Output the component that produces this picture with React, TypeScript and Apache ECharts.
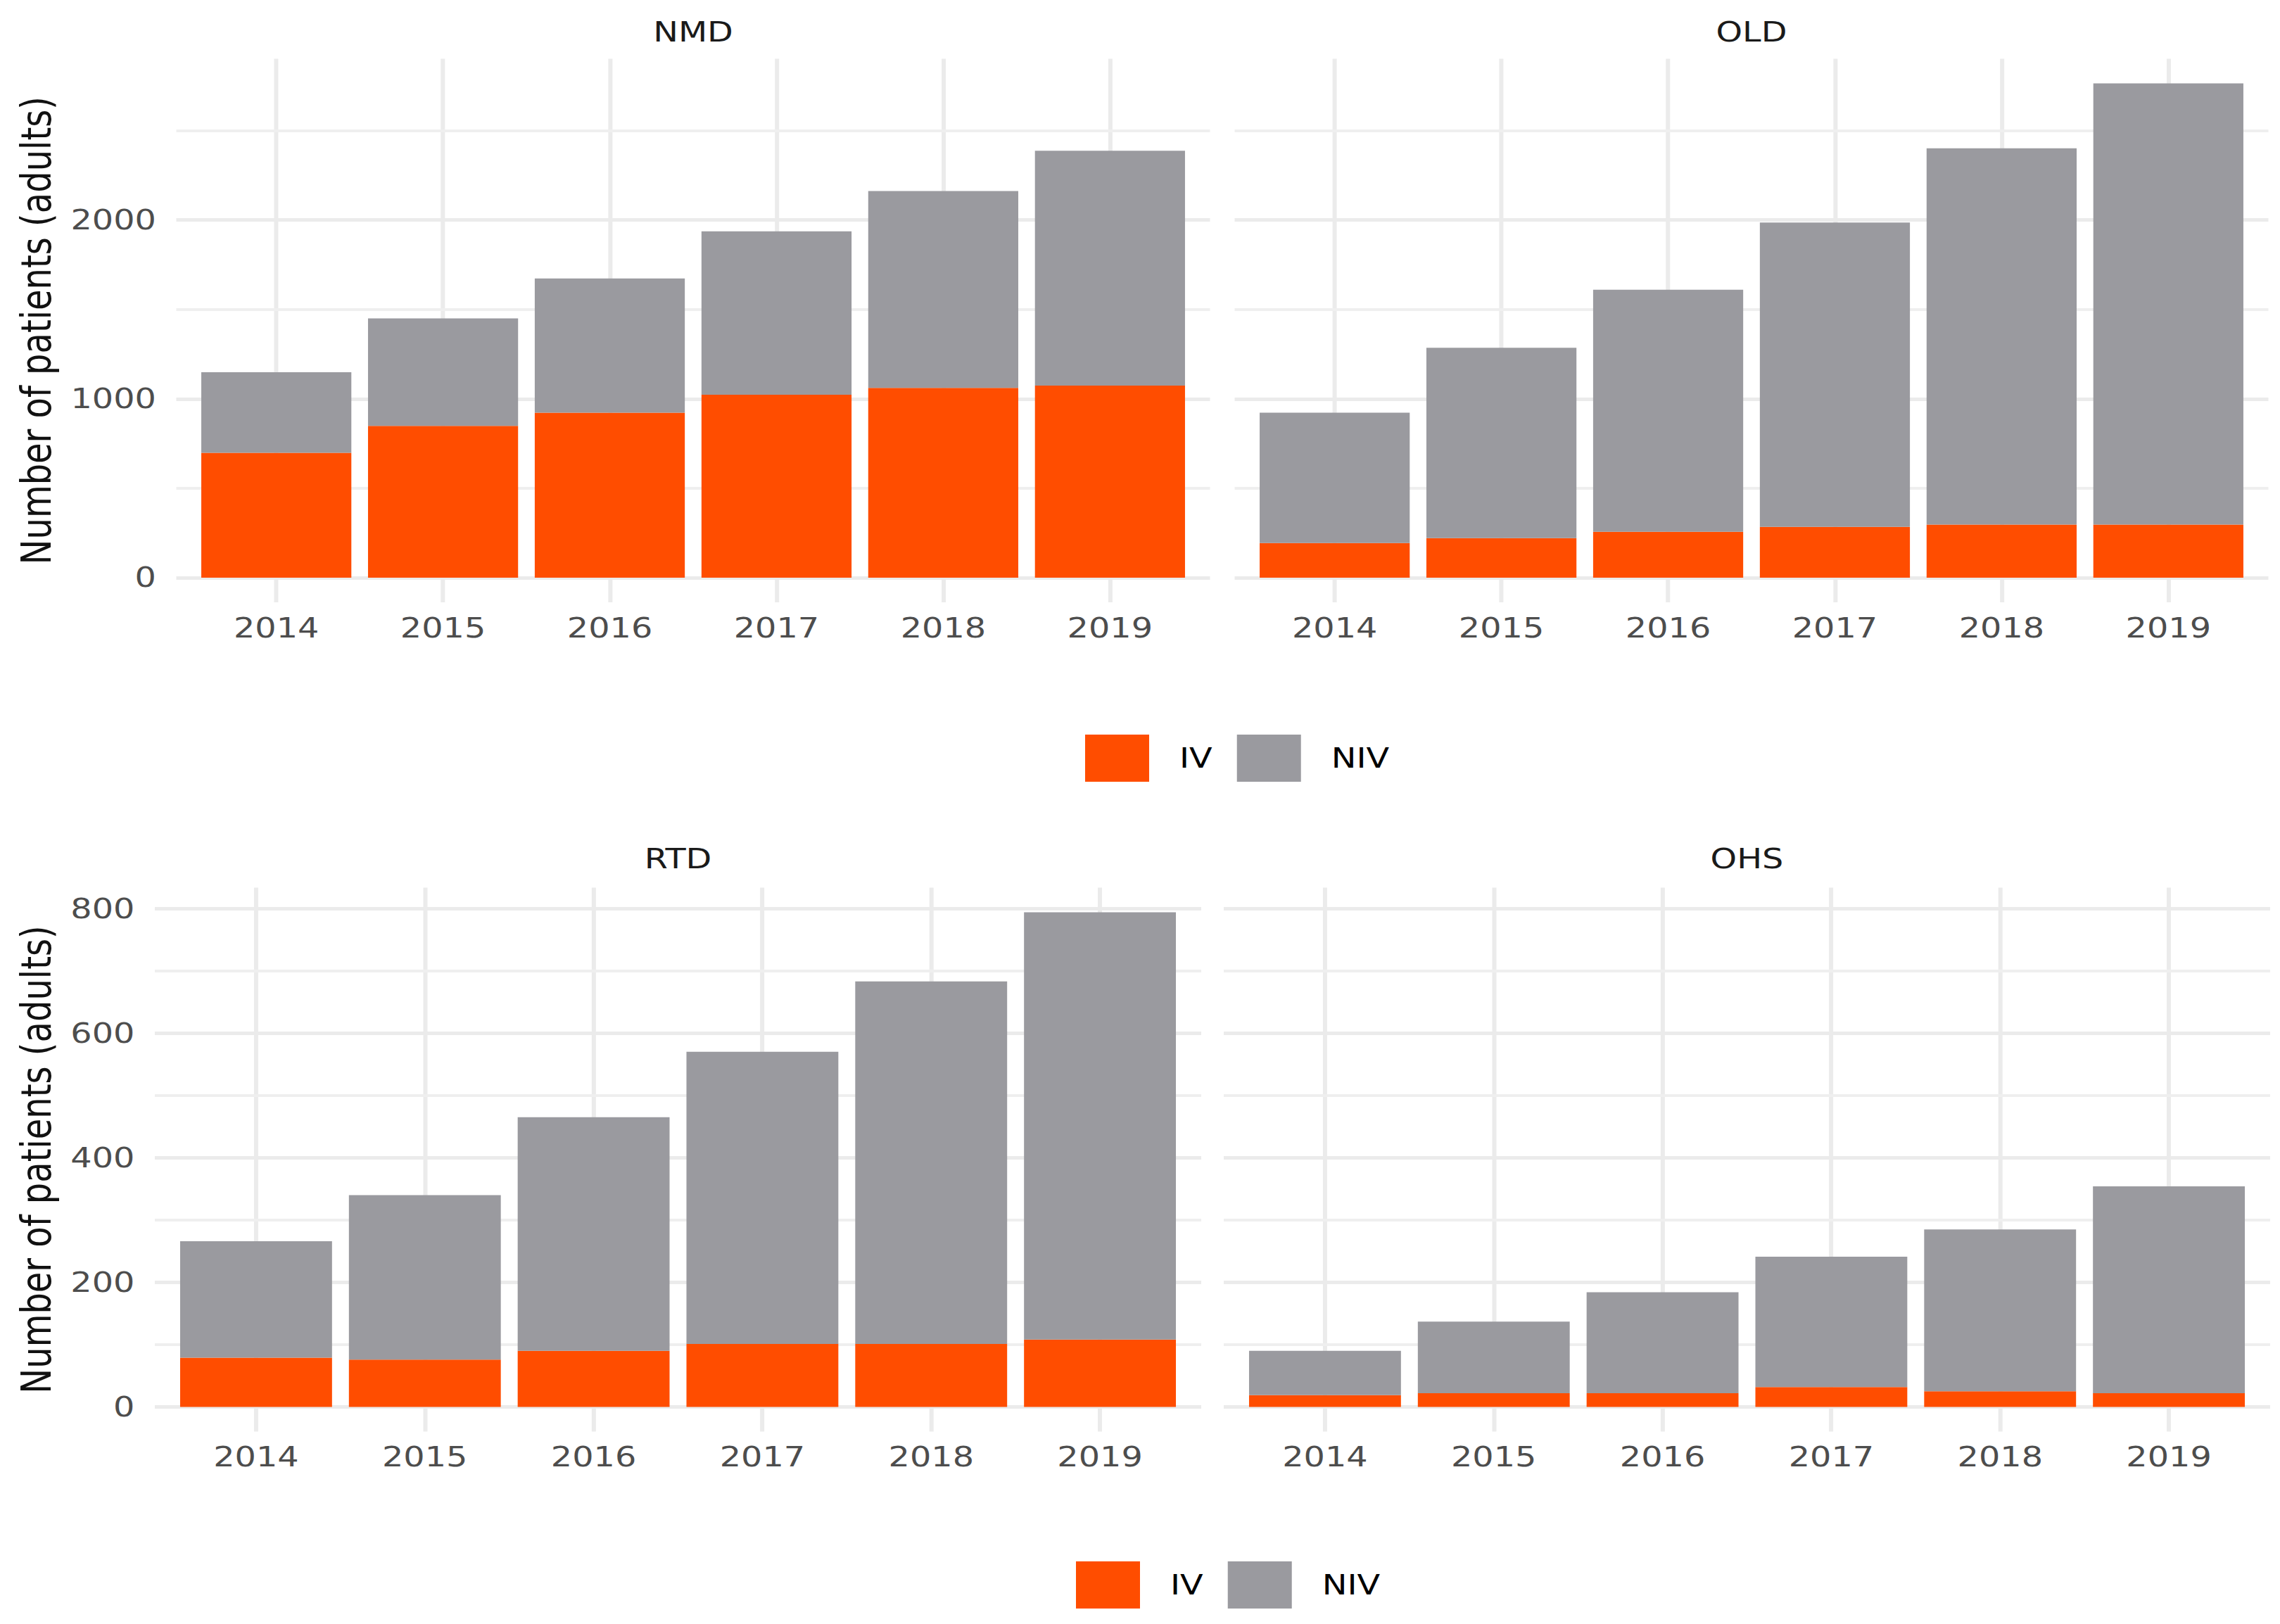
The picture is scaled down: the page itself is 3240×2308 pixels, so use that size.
import React, { useEffect, useRef } from "react";
import * as echarts from "echarts";

// ---------- data ----------
const years = ["2014", "2015", "2016", "2017", "2018", "2019"];
const legendNames = ["IV", "NIV"];
const panelNames = ["NMD", "OLD", "RTD", "OHS"];

const nmdIV = [698, 849, 923, 1023, 1061, 1074];
const nmdNIV = [451, 601, 750, 914, 1101, 1313];
const oldIV = [194, 221, 257, 284, 297, 297];
const oldNIV = [729, 1065, 1353, 1702, 2104, 2467];
const rtdIV = [79, 76, 90, 101, 101, 108];
const rtdNIV = [187, 264, 375, 469, 582, 686];
const ohsIV = [19, 22, 22, 32, 25, 22];
const ohsNIV = [71, 115, 162, 209, 260, 332];

const topYTicks = [0, 1000, 2000];
const topYMinor = [500, 1500, 2500];
const bottomYTicks = [0, 200, 400, 600, 800];
const bottomYMinor = [100, 300, 500, 700];

const yTitle = "Number of patients (adults)";

// ---------- style / layout ----------
const S = 1.24; // horizontal stretch of the reference picture
const W = 3240;
const H = 2308;
const u = (px: number) => px / S;
const FONT = "DejaVu Sans";
const IV_COLOR = "#FF4D00";
const NIV_COLOR = "#9A9A9F";
const GRID_MAJOR = "#EBEBEB";
const GRID_MINOR = "#EFEFEF";
const SMALL = 38.5;
const PAD = 0.6; // discrete-axis expansion, in category units

const panels = [
  { name: panelNames[0], iv: nmdIV, niv: nmdNIV, row: 0, left: 250.5, width: 1469, showY: true },
  { name: panelNames[1], iv: oldIV, niv: oldNIV, row: 0, left: 1754.5, width: 1469, showY: false },
  { name: panelNames[2], iv: rtdIV, niv: rtdNIV, row: 1, left: 220, width: 1487, showY: true },
  { name: panelNames[3], iv: ohsIV, niv: ohsNIV, row: 1, left: 1739, width: 1487, showY: false },
];

const rows = [
  { top: 83.4, bottom: 856.1, stripY: 45.7, ticks: topYTicks, minor: topYMinor, legendLeft: 1542, legendTop: 1044 },
  { top: 1261.4, bottom: 2034.6, stripY: 1221, ticks: bottomYTicks, minor: bottomYMinor, legendLeft: 1529, legendTop: 2219 },
];

function buildOption() {
  const grid: any[] = [];
  const xAxis: any[] = [];
  const yAxis: any[] = [];
  const series: any[] = [];
  const graphic: any[] = [];
  const n = years.length;

  panels.forEach((p, i) => {
    const r = rows[p.row];
    const rowPanels = panels.filter((q) => q.row === p.row);
    const rowMax = Math.max(
      ...rowPanels.flatMap((q) => q.iv.map((v, k) => v + q.niv[k]))
    );
    const yMin = -0.05 * rowMax;
    const yMax = 1.05 * rowMax;
    const spacing = p.width / (n - 1 + 2 * PAD);
    const inset = (PAD - 0.5) * spacing;

    const gBack = 2 * i;
    const gBars = 2 * i + 1;

    // background grid: full panel, carries gridlines, y labels and title
    grid.push({
      left: u(p.left),
      top: r.top,
      width: u(p.width),
      height: r.bottom - r.top,
    });
    // bar grid: the category bands only
    grid.push({
      left: u(p.left + inset),
      top: r.top,
      width: u(p.width - 2 * inset),
      height: r.bottom - r.top,
    });

    xAxis.push({
      type: "value",
      gridIndex: gBack,
      min: -PAD,
      max: n - 1 + PAD,
      show: false,
    });
    xAxis.push({
      type: "category",
      gridIndex: gBars,
      data: years,
      boundaryGap: true,
      axisLine: { show: false },
      axisTick: { show: false },
      splitLine: { show: false },
      axisLabel: {
        interval: 0,
        margin: 17,
        fontSize: SMALL,
        color: "#4d4d4d",
        fontFamily: FONT,
      },
    });

    yAxis.push({
      type: "value",
      gridIndex: gBack,
      min: yMin,
      max: yMax,
      axisLine: { show: false, onZero: false },
      axisTick: { show: false },
      splitLine: { show: false },
      axisLabel: {
        show: p.showY,
        customValues: r.ticks,
        formatter: (v: number) => String(Math.round(v)),
        margin: 23,
        fontSize: SMALL,
        color: "#4d4d4d",
        fontFamily: FONT,
      },
      name: p.showY ? yTitle : "",
      nameLocation: "middle",
      nameGap: u(p.left - 80.9),
      nameTextStyle: { fontSize: 48, color: "#111111", fontFamily: FONT },
    });
    yAxis.push({
      type: "value",
      gridIndex: gBars,
      min: yMin,
      max: yMax,
      show: false,
    });

    const lines: any[] = [];
    years.forEach((_, k) =>
      lines.push({ xAxis: k, lineStyle: { color: GRID_MAJOR, width: u(6), type: "solid" } })
    );
    r.ticks.forEach((v) =>
      lines.push({ yAxis: v, lineStyle: { color: GRID_MAJOR, width: 5, type: "solid" } })
    );
    r.minor.forEach((v) =>
      lines.push({ yAxis: v, lineStyle: { color: GRID_MINOR, width: 4, type: "solid" } })
    );

    series.push({
      name: "grid" + i,
      type: "line",
      xAxisIndex: gBack,
      yAxisIndex: gBack,
      data: [[0, 0]],
      symbol: "none",
      showSymbol: false,
      silent: true,
      lineStyle: { opacity: 0 },
      z: 0,
      markLine: {
        silent: true,
        z: 0,
        symbol: ["none", "none"],
        label: { show: false },
        emphasis: { disabled: true },
        data: lines,
      },
    });

    const barWidth = u(0.9 * spacing);
    series.push({
      name: legendNames[0],
      type: "bar",
      stack: "s" + i,
      xAxisIndex: gBars,
      yAxisIndex: gBars,
      barWidth,
      data: p.iv,
      itemStyle: { color: IV_COLOR },
      z: 3,
    });
    series.push({
      name: legendNames[1],
      type: "bar",
      stack: "s" + i,
      xAxisIndex: gBars,
      yAxisIndex: gBars,
      barWidth,
      data: p.niv,
      itemStyle: { color: NIV_COLOR },
      z: 3,
    });

    graphic.push({
      type: "text",
      x: u(p.left + p.width / 2),
      y: r.stripY,
      silent: true,
      style: {
        text: p.name,
        align: "center",
        verticalAlign: "middle",
        fontSize: SMALL,
        fontFamily: FONT,
        fill: "#1a1a1a",
      },
    });
  });

  const legend = rows.map((r) => ({
    left: u(r.legendLeft),
    top: r.legendTop,
    orient: "horizontal",
    padding: 0,
    itemWidth: u(91),
    itemHeight: 67,
    itemGap: u(35),
    icon: "rect",
    selectedMode: false,
    data: legendNames,
    textStyle: {
      fontSize: SMALL,
      fontFamily: FONT,
      color: "#000000",
      padding: [0, 0, 0, u(43) - 5],
    },
  }));

  return {
    animation: false,
    backgroundColor: "#ffffff",
    grid,
    xAxis,
    yAxis,
    series,
    legend,
    graphic,
  };
}

export default function App() {
  const ref = useRef<HTMLDivElement>(null);
  useEffect(() => {
    if (!ref.current) return;
    const chart = echarts.init(ref.current, null, {
      renderer: "svg",
      width: u(W),
      height: H,
    });
    chart.setOption(buildOption() as any);
    return () => chart.dispose();
  }, []);
  return (
    <div
      ref={ref}
      style={{
        position: "absolute",
        left: 0,
        top: 0,
        width: u(W),
        height: H,
        transform: `scaleX(${S})`,
        transformOrigin: "0 0",
        background: "#ffffff",
      }}
    />
  );
}
